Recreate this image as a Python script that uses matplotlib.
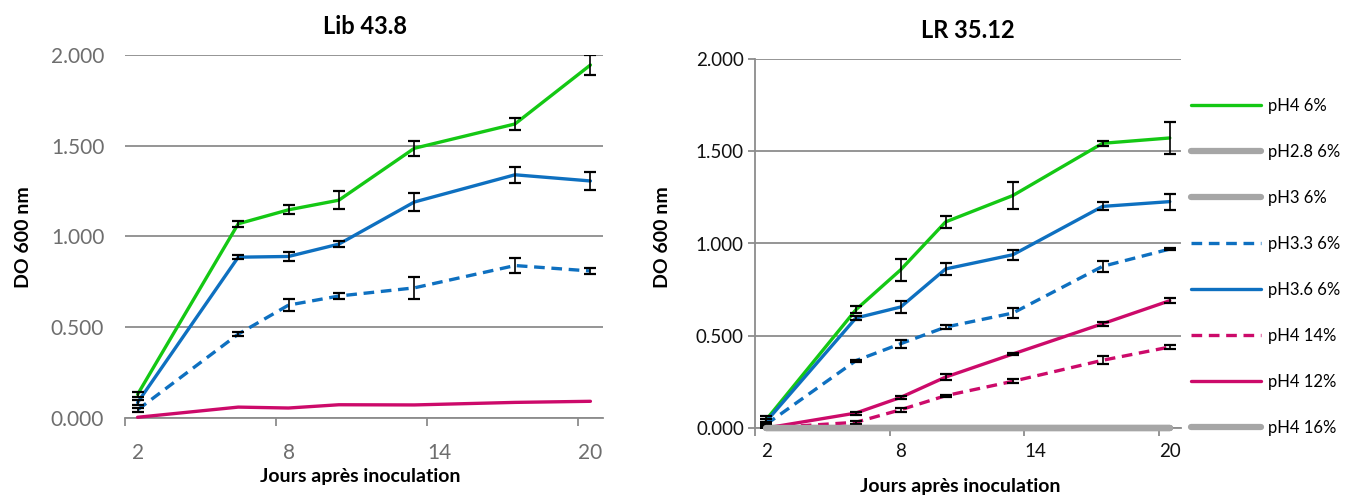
import matplotlib
matplotlib.use("Agg")
import matplotlib.pyplot as plt
import numpy as np

plt.rcParams['font.family'] = ['Lato', 'DejaVu Sans']

days = [2, 6, 8, 10, 13, 17, 20]
x_tick_labels = [2, 8, 14, 20]
y_ticks = [0.0, 0.5, 1.0, 1.5, 2.0]

# Lib 43.8
lib_ph4_6 = [0.13, 1.07, 1.147, 1.20, 1.486, 1.62, 1.945]
lib_ph4_6_err = [0.015, 0.018, 0.024, 0.05, 0.042, 0.035, 0.057]
lib_ph36_6 = [0.085, 0.886, 0.89, 0.958, 1.19, 1.34, 1.306]
lib_ph36_6_err = [0.015, 0.01, 0.023, 0.017, 0.049, 0.044, 0.051]
lib_ph33_6 = [0.045, 0.462, 0.622, 0.672, 0.717, 0.84, 0.81]
lib_ph33_6_err = [0.01, 0.01, 0.031, 0.015, 0.06, 0.041, 0.015]
lib_ph4_12 = [0.004, 0.06, 0.055, 0.073, 0.072, 0.086, 0.092]

# LR 35.12
lr_ph4_6 = [0.045, 0.641, 0.858, 1.117, 1.26, 1.543, 1.572]
lr_ph4_6_err = [0.02, 0.018, 0.059, 0.032, 0.072, 0.015, 0.089]
lr_ph28_6 = [0, 0, 0, 0, 0, 0, 0]
lr_ph3_6 = [0, 0, 0, 0, 0, 0, 0]
lr_ph33_6 = [0.02, 0.365, 0.457, 0.547, 0.623, 0.876, 0.97]
lr_ph33_6_err = [0.01, 0.005, 0.021, 0.01, 0.027, 0.031, 0.006]
lr_ph36_6 = [0.035, 0.596, 0.656, 0.862, 0.939, 1.201, 1.227]
lr_ph36_6_err = [0.015, 0.01, 0.033, 0.034, 0.028, 0.022, 0.044]
lr_ph4_14 = [0.0, 0.031, 0.099, 0.175, 0.253, 0.367, 0.439]
lr_ph4_14_err = [0.0, 0.008, 0.012, 0.005, 0.01, 0.022, 0.013]
lr_ph4_12 = [0.0, 0.081, 0.166, 0.276, 0.401, 0.565, 0.69]
lr_ph4_12_err = [0.0, 0.008, 0.01, 0.015, 0.006, 0.012, 0.015]
lr_ph4_16 = [0, 0, 0, 0, 0, 0, 0]

GREEN = '#14C814'
BLUE = '#0E70C0'
PINK = '#CC0A6A'
GRAY = '#A6A6A6'
GRID = '#8C8C8C'

W, H = 1354, 498
fig = plt.figure(figsize=(W / 100, H / 100), dpi=100)

def px(x0, y_top, x1, y_bot):
    return [x0 / W, 1 - y_bot / H, (x1 - x0) / W, (y_bot - y_top) / H]

ax1 = fig.add_axes(px(125, 55, 603, 418))
ax2 = fig.add_axes(px(755, 59, 1181, 428))

LW = 2.4
DASH = (3.2, 2.0)

def series(ax, y, err, color, ls='-', lw=LW, label=None, z=3, clip=True):
    line, = ax.plot(days, y, color=color, lw=lw, linestyle=ls, label=label,
                    solid_capstyle='round', zorder=z, clip_on=clip)
    if ls == '--':
        line.set_dashes(DASH)
    if err is not None:
        ax.errorbar(days, y, yerr=err, fmt='none', ecolor='black',
                    elinewidth=1.2, capsize=4, capthick=1.6, zorder=z + 1)
    return line

# Left panel
series(ax1, lib_ph4_6, lib_ph4_6_err, GREEN)
series(ax1, lib_ph33_6, lib_ph33_6_err, BLUE, ls='--')
series(ax1, lib_ph36_6, lib_ph36_6_err, BLUE)
series(ax1, lib_ph4_12, None, PINK, clip=False)

# Right panel
GLW = 4.5
handles = []
handles.append(series(ax2, lr_ph4_6, lr_ph4_6_err, GREEN, label='pH4 6%'))
handles.append(series(ax2, lr_ph28_6, None, GRAY, lw=GLW, label='pH2.8 6%', clip=False))
handles.append(series(ax2, lr_ph3_6, None, GRAY, lw=GLW, label='pH3 6%', clip=False))
handles.append(series(ax2, lr_ph33_6, lr_ph33_6_err, BLUE, ls='--', label='pH3.3 6%'))
handles.append(series(ax2, lr_ph36_6, lr_ph36_6_err, BLUE, label='pH3.6 6%'))
handles.append(series(ax2, lr_ph4_14, lr_ph4_14_err, PINK, ls='--', label='pH4 14%', clip=False))
handles.append(series(ax2, lr_ph4_12, lr_ph4_12_err, PINK, label='pH4 12%', clip=False))
handles.append(series(ax2, lr_ph4_16, None, GRAY, lw=GLW, label='pH4 16%', z=6, clip=False))

for ax, labcol, xpad, yfs, showleft in [(ax1, '#6E6E6E', 18, 15, False),
                                        (ax2, '#111111', 11, 13.5, True)]:
    ax.set_xlim(1.5, 20.5)
    ax.set_ylim(0, 2.0)
    ax.set_yticks(y_ticks)
    ax.set_yticklabels([f"{v:.3f}" for v in y_ticks])
    ax.yaxis.grid(True, color=GRID, lw=1.3)
    ax.set_axisbelow(True)
    for s in ['top', 'right']:
        ax.spines[s].set_visible(False)
    ax.spines['bottom'].set_color(GRID)
    ax.spines['bottom'].set_linewidth(1.3)
    ax.spines['left'].set_visible(showleft)
    ax.spines['left'].set_color(GRID)
    ax.spines['left'].set_linewidth(1.3)
    ax.set_xticks([1.5, 7.5, 13.5, 19.5])
    ax.set_xticklabels([])
    ax.tick_params(axis='x', which='major', length=6, width=1.3, color=GRID,
                   direction='out')
    ax.set_xticks(x_tick_labels, minor=True)
    ax.set_xticklabels([str(v) for v in x_tick_labels], minor=True)
    ax.tick_params(axis='x', which='minor', length=0, pad=xpad,
                   labelsize=yfs, labelcolor=labcol)
    ax.tick_params(axis='y', length=5 if showleft else 0, width=1.3,
                   color=GRID, labelsize=yfs, labelcolor=labcol,
                   pad=3 if showleft else 15)
    for sp in ax.spines.values():
        sp.set_zorder(0.5)

# Titles and axis labels
def ftext(x, y, s, **kw):
    fig.text(x / W, 1 - y / H, s, ha='center', va='center', **kw)

ftext(365, 26, 'Lib 43.8', fontsize=17, fontweight='bold')
ftext(968, 30, 'LR 35.12', fontsize=17, fontweight='bold')
ftext(360, 476, 'Jours après inoculation', fontsize=14, fontweight='bold')
ftext(960, 486, 'Jours après inoculation', fontsize=14, fontweight='bold')
ftext(24, 237, 'DO 600 nm', fontsize=14, fontweight='bold', rotation=90)
ftext(662, 237, 'DO 600 nm', fontsize=14, fontweight='bold', rotation=90)

leg = fig.legend(handles=handles, loc='upper left',
                 bbox_to_anchor=(1191 / W, 1 - 98 / H),
                 frameon=False, fontsize=12, handlelength=4.2,
                 handletextpad=0.4, labelspacing=1.80, borderaxespad=0,
                 borderpad=0)

fig.savefig('out.png', dpi=100)
